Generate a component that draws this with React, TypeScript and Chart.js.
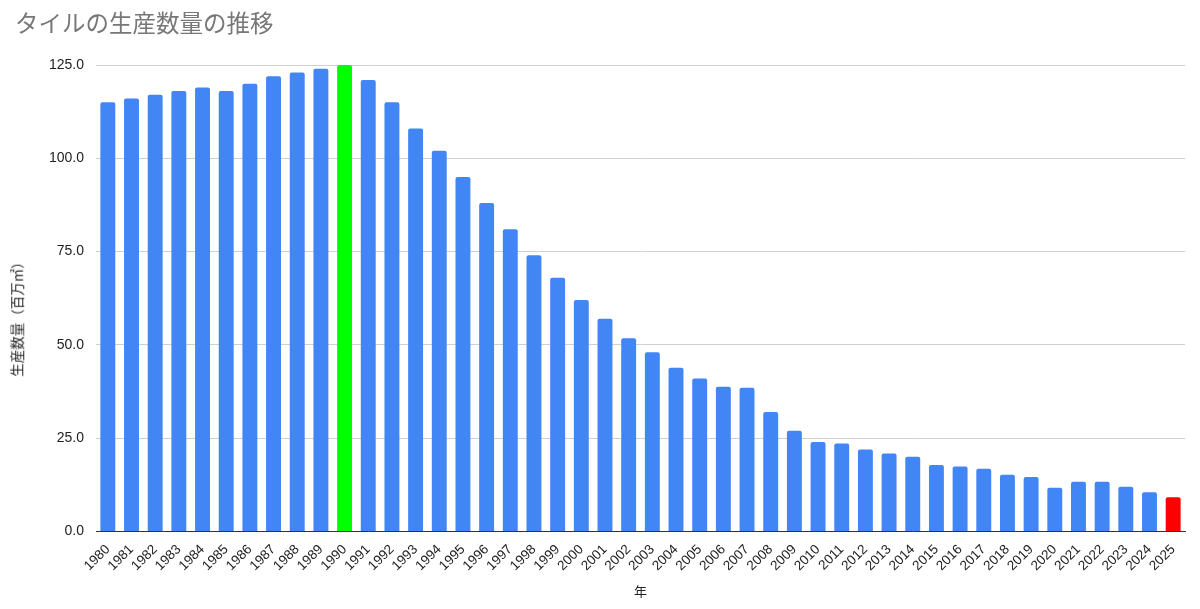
import React, { useRef, useEffect } from "react";
import { Chart, registerables } from "chart.js";

Chart.register(...registerables);

const years: string[] = [
  "1980", "1981", "1982", "1983", "1984", "1985", "1986", "1987", "1988", "1989",
  "1990", "1991", "1992", "1993", "1994", "1995", "1996", "1997", "1998", "1999",
  "2000", "2001", "2002", "2003", "2004", "2005", "2006", "2007", "2008", "2009",
  "2010", "2011", "2012", "2013", "2014", "2015", "2016", "2017", "2018", "2019",
  "2020", "2021", "2022", "2023", "2024", "2025",
];

// 生産数量（百万㎡）
const production: number[] = [
  115, 116, 117, 118, 119, 118, 120, 122, 123, 124,
  125, 121, 115, 108, 102, 95, 88, 81, 74, 68,
  62, 57, 51.8, 48, 43.9, 41, 38.8, 38.5, 32, 27,
  24, 23.6, 22, 20.9, 20, 17.8, 17.4, 16.8, 15.2, 14.6,
  11.7, 13.3, 13.3, 12, 10.5, 9.2,
];

const yTicks: number[] = [0, 25, 50, 75, 100, 125];

const peakYear = "1990";
const latestYear = "2025";

const FONT = '"Liberation Sans", Arial, "Noto Sans CJK JP", sans-serif';

const App = () => {
  const canvasRef = useRef<HTMLCanvasElement>(null);
  const chartRef = useRef<Chart | null>(null);

  useEffect(() => {
    if (!canvasRef.current) return;
    const ctx = canvasRef.current.getContext("2d");
    if (!ctx) return;

    if (chartRef.current) {
      chartRef.current.destroy();
    }

    const colors = years.map((y) =>
      y === peakYear ? "#00ff00" : y === latestYear ? "#ff0000" : "#4285f4"
    );

    chartRef.current = new Chart(ctx, {
      type: "bar",
      data: {
        labels: years,
        datasets: [
          {
            label: "生産数量",
            data: production,
            backgroundColor: colors,
            borderRadius: 2,
            categoryPercentage: 1,
            barPercentage: 0.63,
          },
        ],
      },
      options: {
        animation: false,
        responsive: false,
        layout: {
          padding: { top: 65, right: 15, left: 0, bottom: 0 },
        },
        plugins: {
          legend: { display: false },
          tooltip: { enabled: false },
          title: { display: false },
        },
        scales: {
          x: {
            grid: { display: false },
            border: { display: true, color: "#333333", width: 1 },
            ticks: {
              minRotation: 45,
              maxRotation: 45,
              autoSkip: false,
              padding: 2,
              color: "#222222",
              font: { family: FONT, size: 13.5 },
            },
            title: {
              display: true,
              text: "年",
              color: "#222222",
              padding: { top: 0, bottom: 9 },
              font: { family: FONT, size: 13 },
            },
            afterFit: (scale: any) => {
              scale.height = 77.5;
            },
          },
          y: {
            min: 0,
            max: 125,
            afterBuildTicks: (scale: any) => {
              scale.ticks = yTicks.map((v) => ({ value: v }));
            },
            grid: {
              color: "#d0d0d0",
              lineWidth: 1,
              drawTicks: false,
            },
            border: { display: false },
            ticks: {
              padding: 12,
              color: "#222222",
              font: { family: FONT, size: 14 },
              callback: (v: any) => Number(v).toFixed(1),
            },
            afterFit: (scale: any) => {
              scale.width = 96;
            },
          },
        },
      },
    });

    return () => {
      if (chartRef.current) {
        chartRef.current.destroy();
        chartRef.current = null;
      }
    };
  }, []);

  return (
    <div
      style={{
        position: "absolute",
        left: 0,
        top: 0,
        width: 1200,
        height: 609,
        background: "#ffffff",
      }}
    >
      <div
        style={{
          position: "absolute",
          left: 15,
          top: 5,
          fontFamily: FONT,
          fontSize: 23.5,
          color: "#777777",
          whiteSpace: "nowrap",
        }}
      >
        タイルの生産数量の推移
      </div>
      <div
        style={{
          position: "absolute",
          left: 18,
          top: 316,
          transform: "translate(-50%, -50%) rotate(-90deg)",
          fontFamily: FONT,
          fontSize: 13.5,
          color: "#222222",
          whiteSpace: "nowrap",
          lineHeight: 1,
        }}
      >
        生産数量（百万㎡）
      </div>
      <canvas ref={canvasRef} width={1200} height={609} />
    </div>
  );
};

export default App;
